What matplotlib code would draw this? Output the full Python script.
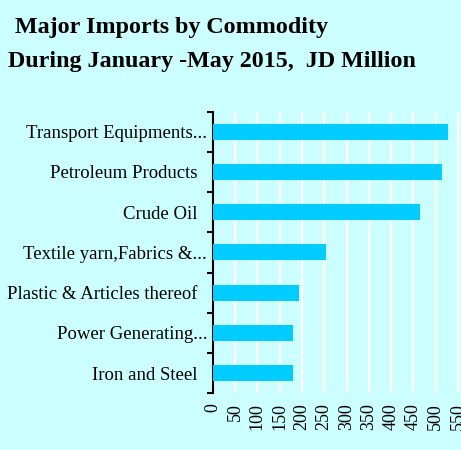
import matplotlib
matplotlib.use("Agg")
import matplotlib.pyplot as plt
import numpy as np

#----- data ---------
commodities = ["Transport Equipments...", "Petroleum Products  ", "Crude Oil  ",
               "Textile yarn,Fabrics &...", "Plastic & Articles thereof  ",
               "Power Generating...", "Iron and Steel  "]
values = [528, 513, 465, 253, 193, 180, 180]
xticks = list(range(0, 600, 50))

bg = "#CCFFFF"
bar_col = "#00CCFF"

plt.rcParams['font.family'] = ['Liberation Serif', 'DejaVu Serif']

fig = plt.figure(figsize=(4.61, 4.5), dpi=100)
fig.patch.set_facecolor(bg)
ax = fig.add_axes([0.4614, 0.126, 0.537, 0.626])
ax.set_facecolor(bg)

y = np.arange(len(commodities))
ax.barh(y, values, height=0.4, color=bar_col, zorder=3)
ax.set_ylim(len(commodities) - 0.5, -0.5)
ax.set_xlim(0, 555)

# grid
ax.set_xticks(xticks)
ax.set_xticklabels([str(v) for v in xticks], rotation=90, fontsize=13)
ax.xaxis.grid(True, color="white", linewidth=1.6, zorder=0)
ax.tick_params(axis="x", length=0, pad=7)

# category labels centred on bars, ticks on boundaries
ax.set_yticks(np.arange(-0.5, len(commodities), 1.0))
ax.set_yticklabels([])
ax.set_yticks(y, minor=True)
ax.set_yticklabels(commodities, minor=True, fontsize=13.5)
ax.tick_params(axis="y", which="major", length=4, width=1.5, direction="out")
ax.tick_params(axis="y", which="minor", length=0, pad=4)

for s in ["top", "right", "bottom"]:
    ax.spines[s].set_visible(False)
ax.spines["left"].set_linewidth(1.5)

fig.text(0.033, 0.939, "Major Imports by Commodity", fontsize=17.3, fontweight="bold",
         va="center", ha="left")
fig.text(0.017, 0.864, "During January -May 2015,  JD Million", fontsize=17.3,
         fontweight="bold", va="center", ha="left")

fig.savefig("out.png", dpi=100, facecolor=bg)
